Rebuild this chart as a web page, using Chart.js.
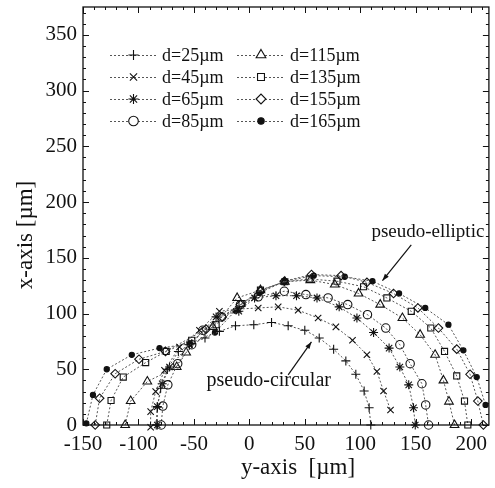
<!DOCTYPE html>
<html lang="en">
<head>
<meta charset="UTF-8" />
<title>Crater profiles</title>
<script src="https://cdn.jsdelivr.net/npm/chart.js"></script>
<style>
    body { margin: 0; background: #ffffff; }
    canvas { display: block; }
</style>
</head>
<body>
<canvas id="profileChart" width="495" height="488"></canvas>
<script>
    // horizontal = "y-axis" [um], vertical = "x-axis" [um]
    const d25Y = [-84, -83, -80, -74, -64, -52, -40, -27, -12.5, 4, 20, 35, 50, 63, 76, 87, 96, 103.5, 108, 109.5];
    const d25X = [0, 16, 33, 50, 66, 73, 78, 84, 89, 90, 92, 89, 85, 78, 68, 57.5, 45.5, 30.5, 15.5, 0];

    const d45Y = [-89, -89, -84.5, -76.5, -63, -45, -27, -10, 8, 26, 44, 62, 78, 93, 106, 115, 121, 127.3];
    const d45X = [-2, 12, 30, 49, 70, 85, 102, 104, 105, 106, 103, 96, 88, 76, 63, 48, 30.5, 13.5];

    const d65Y = [-83, -83, -78.6, -72, -54, -30, -9.5, 4.7, 24, 42.5, 61, 81, 97, 112, 126, 135.7, 143.7, 148, 149.6];
    const d65X = [0, 16.5, 37, 52, 72, 97, 102, 114, 116, 116, 114, 106, 96, 83, 69, 52, 36, 15.5, 0];

    const d85Y = [-79.5, -78, -73.5, -64.6, -52, -42, -25, -8, 8, 31.5, 51, 71, 88.7, 106.5, 123, 135.7, 145, 155.6, 159, 161.6];
    const d85X = [0, 17, 36, 55, 72, 85, 97, 108, 115, 120, 117, 114, 108, 99, 87, 72, 55, 37, 18, 0];

    const d115Y = [-112, -107, -92, -65.5, -57, -33, -11, 10, 32, 55, 77, 98.5, 118, 138, 154, 167.5, 175, 180, 185];
    const d115X = [0, 21.5, 39, 52, 65, 88, 114, 121, 128.5, 130, 126, 118, 108, 96, 81, 63, 40, 21, 0];

    const d135Y = [-128.6, -124.7, -113.7, -93.5, -75, -52, -30, -6.6, 10, 32, 54, 79, 103, 124, 146, 163.6, 176, 187, 194, 197];
    const d135X = [0, 22, 43, 56, 66, 76, 90, 109, 121, 128.5, 131, 129, 124, 114, 102, 87, 66, 44, 21.5, 0];

    const d155Y = [-139, -135, -121, -99.5, -75.6, -39, -24.5, -8, 10, 31.5, 56, 82.7, 106, 130, 152, 170.5, 187, 199, 206, 211];
    const d155X = [0, 24, 46, 59, 66, 86, 97, 108, 120, 129, 135, 134, 128, 118, 105, 87, 68, 45.5, 21.5, 0];

    const d165Y = [-147, -141, -128.6, -106, -81, -54, -31, -12.5, 9, 32, 58, 86, 111, 135, 158.6, 179.5, 193, 205, 213];
    const d165X = [1.5, 27, 50, 63, 69, 72.7, 83, 102.6, 118.5, 129, 134, 133, 129, 118, 105, 90, 67, 43, 18];

    const seriesLabels = ["d=25\u00b5m", "d=45\u00b5m", "d=65\u00b5m", "d=85\u00b5m", "d=115\u00b5m", "d=135\u00b5m", "d=155\u00b5m", "d=165\u00b5m"];
    const xTicks = [-150, -100, -50, 0, 50, 100, 150, 200];
    const yTicks = [0, 50, 100, 150, 200, 250, 300, 350];

    const serif = "'Liberation Serif', 'DejaVu Serif', serif";
    const ink = "#111111";

    function pairs(hs, vs) {
        return hs.map((h, i) => ({ x: h, y: vs[i] }));
    }

    function makeSet(i, hs, vs, style, filled, radius) {
        return {
            label: seriesLabels[i],
            data: pairs(hs, vs),
            borderColor: "#555555",
            borderWidth: 1,
            borderDash: [2, 2],
            pointStyle: style,
            pointRadius: radius,
            pointBorderColor: ink,
            pointBackgroundColor: filled ? ink : "rgba(255,255,255,0)",
            pointBorderWidth: 1.1,
            fill: false,
            tension: 0,
            clip: false
        };
    }

    const datasets = [
        makeSet(0, d25Y, d25X, "cross", false, 4.5),
        makeSet(1, d45Y, d45X, "crossRot", false, 4.5),
        makeSet(2, d65Y, d65X, "star", false, 4.5),
        makeSet(3, d85Y, d85X, "circle", false, 4.2),
        makeSet(4, d115Y, d115X, "triangle", false, 5),
        makeSet(5, d135Y, d135X, "rect", false, 4.3),
        makeSet(6, d155Y, d155X, "rectRot", false, 4.3),
        makeSet(7, d165Y, d165X, "circle", true, 2.6)
    ];

    function arrow(ctx, x1, y1, x2, y2) {
        ctx.beginPath();
        ctx.moveTo(x1, y1);
        ctx.lineTo(x2, y2);
        ctx.stroke();
        const a = Math.atan2(y2 - y1, x2 - x1);
        const len = 7, w = 2.5;
        ctx.beginPath();
        ctx.moveTo(x2, y2);
        ctx.lineTo(x2 - len * Math.cos(a) + w * Math.sin(a), y2 - len * Math.sin(a) - w * Math.cos(a));
        ctx.lineTo(x2 - len * Math.cos(a) - w * Math.sin(a), y2 - len * Math.sin(a) + w * Math.cos(a));
        ctx.closePath();
        ctx.fill();
    }

    const decorations = {
        id: "decorations",
        afterDraw(chart) {
            const ctx = chart.ctx;
            const area = chart.chartArea;
            const sx = chart.scales.x;
            const sy = chart.scales.y;
            ctx.save();
            ctx.strokeStyle = ink;
            ctx.fillStyle = ink;

            // frame
            ctx.lineWidth = 1.3;
            ctx.strokeRect(area.left, area.top, area.right - area.left, area.bottom - area.top);

            // inward ticks, minor every 10
            ctx.lineWidth = 1;
            ctx.beginPath();
            for (let v = -150; v <= sx.max; v += 10) {
                const p = Math.round(sx.getPixelForValue(v)) + 0.5;
                const len = v % 50 === 0 ? 6 : 3;
                ctx.moveTo(p, area.bottom); ctx.lineTo(p, area.bottom - len);
                ctx.moveTo(p, area.top); ctx.lineTo(p, area.top + len);
            }
            for (let v = 0; v <= sy.max; v += 10) {
                const p = Math.round(sy.getPixelForValue(v)) + 0.5;
                const len = v % 50 === 0 ? 6 : 3;
                ctx.moveTo(area.left, p); ctx.lineTo(area.left + len, p);
                ctx.moveTo(area.right, p); ctx.lineTo(area.right - len, p);
            }
            ctx.stroke();

            // legend: dotted line with the marker in the middle
            const rows = [55, 77, 99, 121];
            const cols = [{ x0: 110, x1: 157, tx: 162 }, { x0: 237, x1: 285, tx: 290 }];
            ctx.font = "18px " + serif;
            ctx.textBaseline = "middle";
            ctx.textAlign = "left";
            datasets.forEach((ds, i) => {
                const c = cols[Math.floor(i / 4)];
                const y = rows[i % 4];
                ctx.save();
                ctx.strokeStyle = ds.borderColor;
                ctx.lineWidth = 1;
                ctx.setLineDash([2, 2]);
                ctx.beginPath();
                ctx.moveTo(c.x0, y + 0.5);
                ctx.lineTo(c.x1, y + 0.5);
                ctx.stroke();
                ctx.restore();
                ctx.save();
                ctx.strokeStyle = ink;
                ctx.fillStyle = ds.pointBackgroundColor === ink ? ink : "#ffffff";
                ctx.lineWidth = 1.1;
                Chart.helpers.drawPoint(ctx, {
                    pointStyle: ds.pointStyle,
                    radius: ds.pointRadius + 0.6,
                    borderWidth: 1.1,
                    rotation: 0
                }, (c.x0 + c.x1) / 2, y);
                ctx.restore();
                ctx.fillStyle = ink;
                ctx.fillText(ds.label, c.tx, y + 1);
            });

            // annotations
            ctx.font = "19px " + serif;
            ctx.textAlign = "center";
            ctx.fillText("pseudo-elliptic", sx.getPixelForValue(161), sy.getPixelForValue(173));
            ctx.font = "20px " + serif;
            ctx.fillText("pseudo-circular", sx.getPixelForValue(17.5), sy.getPixelForValue(40));
            ctx.lineWidth = 1.2;
            arrow(ctx, sx.getPixelForValue(146), sy.getPixelForValue(161.5), sx.getPixelForValue(120), sy.getPixelForValue(129.5));
            arrow(ctx, sx.getPixelForValue(35), sy.getPixelForValue(45), sx.getPixelForValue(56), sy.getPixelForValue(74.5));

            // axis titles
            ctx.font = "23px " + serif;
            ctx.textAlign = "center";
            ctx.fillText("y-axis  [\u00b5m]", 298, 468);
            ctx.save();
            ctx.translate(26, 235);
            ctx.rotate(-Math.PI / 2);
            ctx.fillText("x-axis [\u00b5m]", 0, 0);
            ctx.restore();

            ctx.restore();
        }
    };

    const chart = new Chart(document.getElementById("profileChart"), {
        type: "line",
        data: { datasets: datasets },
        options: {
            responsive: false,
            animation: false,
            devicePixelRatio: 1,
            layout: { padding: { top: 7, right: 1, left: 0, bottom: 0 } },
            plugins: {
                legend: { display: false },
                tooltip: { enabled: false }
            },
            scales: {
                x: {
                    type: "linear",
                    min: -150,
                    max: 216,
                    afterFit: s => {
                        s.height = 63;
                        s.paddingLeft = 0;
                        s.paddingRight = 0;
                    },
                    afterBuildTicks: s => { s.ticks = xTicks.map(v => ({ value: v })); },
                    grid: { display: false, drawTicks: false },
                    border: { display: false },
                    ticks: {
                        padding: 7,
                        color: ink,
                        font: { family: serif, size: 21 },
                        maxRotation: 0,
                        autoSkip: false
                    }
                },
                y: {
                    type: "linear",
                    min: 0,
                    max: 375,
                    afterFit: s => {
                        s.width = 83;
                        s.paddingTop = 0;
                        s.paddingBottom = 0;
                    },
                    afterBuildTicks: s => { s.ticks = yTicks.map(v => ({ value: v })); },
                    grid: { display: false, drawTicks: false },
                    border: { display: false },
                    ticks: {
                        padding: 6,
                        color: ink,
                        font: { family: serif, size: 21 },
                        autoSkip: false
                    }
                }
            }
        },
        plugins: [decorations]
    });
</script>
</body>
</html>
